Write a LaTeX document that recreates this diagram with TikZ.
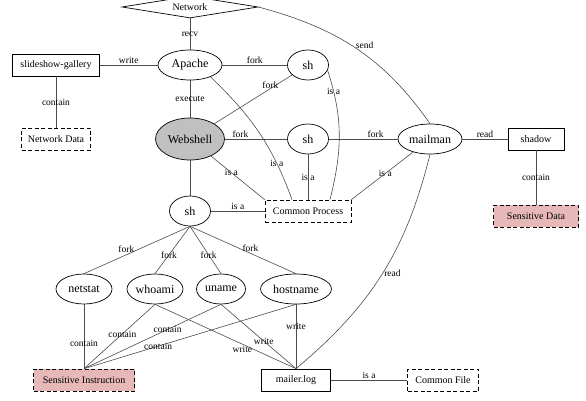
\documentclass[tikz,border=0pt]{standalone}
\usepackage{fontspec}
\setmainfont{Liberation Serif}
\usetikzlibrary{shapes.geometric}
\definecolor{sensred}{RGB}{230,185,184}
\definecolor{webgray}{RGB}{192,192,192}

\begin{document}
\begin{tikzpicture}[x=1pt,y=1pt,
  proc/.style={draw,ellipse,inner sep=0pt,minimum height=30pt,line width=.7pt,font=\fontsize{12}{14}\selectfont},
  obj/.style={draw,rectangle,inner sep=0pt,minimum height=22pt,line width=.7pt,font=\fontsize{10}{12}\selectfont},
  cls/.style={obj,dash pattern=on 4pt off 2.5pt},
  sens/.style={cls,fill=sensred},
  lbl/.style={inner sep=1.5pt,font=\fontsize{9.5}{11}\selectfont},
  edge/.style={draw=black!70,line width=.6pt}]
\useasboundingbox (0,0) rectangle (586,400);
\node[draw,diamond,aspect=6.2,inner sep=0pt,minimum width=136pt,minimum height=22pt,line width=.7pt,font=\fontsize{10}{12}\selectfont] (net) at (190,393) {Network};
\node[obj,minimum width=87pt] (slide) at (56,335) {slideshow-gallery};
\node[cls,minimum width=69pt] (netdata) at (56,261) {Network Data};
\node[proc,minimum width=64pt] (apache) at (190,335) {Apache};
\node[proc,minimum width=41pt] (shA) at (308,335) {sh};
\node[proc,minimum width=69pt,minimum height=42pt,fill=webgray] (web) at (190,261) {Webshell};
\node[proc,minimum width=41pt] (shB) at (308,261) {sh};
\node[proc,minimum width=64pt] (mailman) at (430,261) {mailman};
\node[obj,minimum width=56pt] (shadow) at (536,261) {shadow};
\node[sens,minimum width=85pt] (sensdata) at (536,184) {Sensitive Data};
\node[proc,minimum width=41pt] (shC) at (190,189) {sh};
\node[cls,minimum width=86pt] (cp) at (308,189) {Common Process};
\node[proc,minimum width=56pt] (netstat) at (84,111) {netstat};
\node[proc,minimum width=56pt] (whoami) at (155,111) {whoami};
\node[proc,minimum width=49pt] (uname) at (221,111) {uname};
\node[proc,minimum width=71pt] (hostname) at (296,111) {hostname};
\node[sens,minimum width=101pt] (si) at (84,20) {Sensitive Instruction};
\node[obj,minimum width=69pt] (mlog) at (296,20) {mailer.log};
\node[cls,minimum width=71pt] (cfile) at (443,20) {Common File};

\draw[edge] (net) -- node[lbl] {recv} (apache);
\draw[edge] (net.east) to[out=-15,in=125] node[lbl,pos=.5,above right=-2pt] {send} (mailman.north);
\draw[edge] (slide) -- node[lbl,above] {write} (apache);
\draw[edge] (slide) -- node[lbl] {contain} (netdata);
\draw[edge] (apache) -- node[lbl,above] {fork} (shA);
\draw[edge] (apache) -- node[lbl] {execute} (web);
\draw[edge] (web) -- node[lbl,pos=.72,yshift=3pt] {fork} (shA);
\draw[edge] (web) -- node[lbl,above,pos=.25] {fork} (shB);
\draw[edge] (shB) -- node[lbl,above,pos=.68] {fork} (mailman);
\draw[edge] (mailman) -- node[lbl,above] {read} (shadow);
\draw[edge] (shadow) -- node[lbl] {contain} (sensdata);
\draw[edge] (web) -- (shC);
\draw[edge] (web) -- node[lbl,pos=.38] {is a} (cp.north west);
\draw[edge] (apache.-30) to[out=-44,in=110] node[lbl,pos=.75] {is a} ([xshift=-16pt]cp.north);
\draw[edge] (shA.-15) to[out=-72,in=76] node[lbl,pos=.15] {is a} ([xshift=22pt]cp.north);
\draw[edge] (shB) -- node[lbl] {is a} (cp);
\draw[edge] (mailman) -- node[lbl,pos=.45] {is a} (cp.north east);
\draw[edge] (shC) -- node[lbl,above] {is a} (cp);
\draw[edge] (mailman.south) to[out=-104,in=40] node[lbl,pos=.5,right] {read} (mlog.north);
\draw[edge] (shC.south) -- node[lbl,pos=.6,above] {fork} (netstat.north);
\draw[edge] (shC.south) -- node[lbl,pos=.6] {fork} (whoami.north);
\draw[edge] (shC.south) -- node[lbl,pos=.6] {fork} (uname.north);
\draw[edge] (shC.south) -- node[lbl,pos=.57,above] {fork} (hostname.north);
\draw[edge] (netstat) -- node[lbl,pos=.6] {contain} (si);
\draw[edge] (whoami.south) -- node[lbl,pos=.46] {contain} (si.north);
\draw[edge] (uname.south) -- node[lbl,pos=.39] {contain} (si.north);
\draw[edge] (hostname.south) -- node[lbl,pos=.65] {contain} (si.north);
\draw[edge] (whoami.south) -- node[lbl,pos=.62,below] {write} (mlog.north);
\draw[edge] (uname.south) -- node[lbl,pos=.57] {write} (mlog.north);
\draw[edge] (hostname) -- node[lbl,pos=.35] {write} (mlog);
\draw[edge] (mlog) -- node[lbl,above] {is a} (cfile);
\end{tikzpicture}
\end{document}
